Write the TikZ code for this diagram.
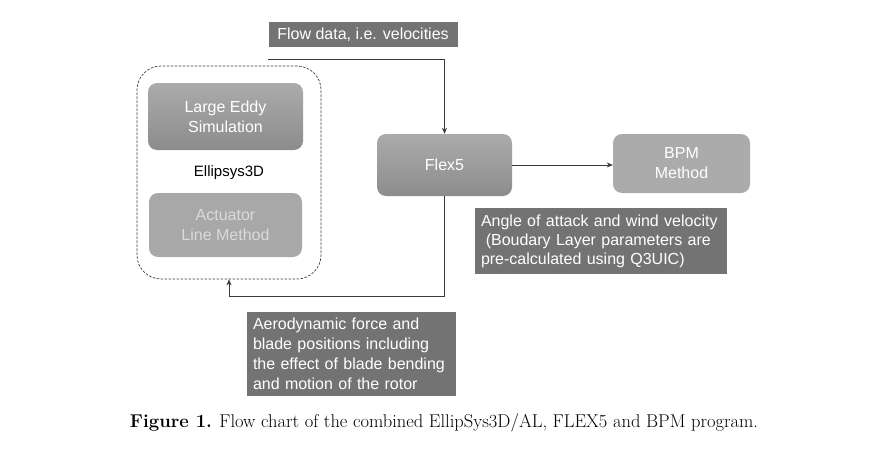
\documentclass[tikz,border=0pt]{standalone}
\usepackage{fontspec}
\setsansfont{Liberation Sans}
\usepackage{tikz}
\usetikzlibrary{arrows.meta, positioning, calc}
\definecolor{cdark}{HTML}{737373}
\definecolor{cline}{HTML}{3A3A3A}
\definecolor{ctop}{HTML}{ABABAB}
\definecolor{cbottom}{HTML}{8C8C8C}
\definecolor{cflat}{HTML}{ABABAB}
\definecolor{cact}{HTML}{A8A8A8}
\definecolor{cacttext}{HTML}{DADADA}

\begin{document}
\begin{tikzpicture}[x=1pt, y=-1pt,
  every node/.style={inner sep=0pt},
  boxfont/.style={font=\sffamily\fontsize{16}{20}\selectfont},
  block/.style={boxfont, rounded corners=9pt, align=center, text=white},
  shaded/.style={block, top color=ctop, bottom color=cbottom},
  tag/.style={boxfont, fill=cdark, text=white, align=left, inner xsep=6pt},
  link/.style={cline, semithick, -{Stealth[length=6pt, width=5pt]}}]
  \useasboundingbox (0,0) rectangle (889,450);

  % Ellipsys3D group
  \node[draw=cline, line width=0.7pt, dash pattern=on 2.5pt off 1.5pt, rounded corners=24pt,
        minimum width=184pt, minimum height=213pt,
        font=\sffamily\fontsize{15}{17}\selectfont] (ellipsys) at (229,172.5) {Ellipsys3D};
  \node[shaded, minimum width=155pt, minimum height=67pt] (les) at (225.5,116.5) {Large Eddy\\Simulation};
  \node[block, fill=cact, text=cacttext, minimum width=153pt, minimum height=64pt] (actuator) at (225.5,225) {Actuator\\Line Method};

  \node[shaded, minimum width=135pt, minimum height=62pt] (flex) at (444.5,165) {Flex5};
  \node[block, fill=cflat, minimum width=137pt, minimum height=59pt] (bpm) at (681.5,163.5) {BPM\\Method};

  % Labels
  \node[tag, minimum width=189pt, minimum height=25pt, align=center] (flowtag) at (363,34.5) {Flow data, i.e. velocities};
  \node[tag, minimum width=252pt, minimum height=66pt, text width=240pt,
        font=\sffamily\fontsize{16}{19}\selectfont] (angletag) at (601,241)
    {Angle of attack and wind velocity\\\hspace*{0.3em}(Boudary Layer parameters are\\pre-calculated using Q3UIC)};
  \node[tag, minimum width=209pt, minimum height=84pt, text width=197pt] (aerotag) at (351.5,354)
    {Aerodynamic force and\\blade positions including\\the effect of blade bending\\and motion of the rotor};

  % Connectors
  \coordinate (flowin) at (268,59);
  \draw[link] (flowin) -| (flex.north);
  \draw[link] (flex.east) -- (flex.east -| bpm.west);
  \draw[link] (flex.south) -- ++(0,100) -| (ellipsys.south);

  \node[font=\fontsize{18.5}{21}\selectfont] (caption) at (444,423)
    {\textbf{Figure 1.} Flow chart of the combined EllipSys3D/AL, FLEX5 and BPM program.};
\end{tikzpicture}
\end{document}
